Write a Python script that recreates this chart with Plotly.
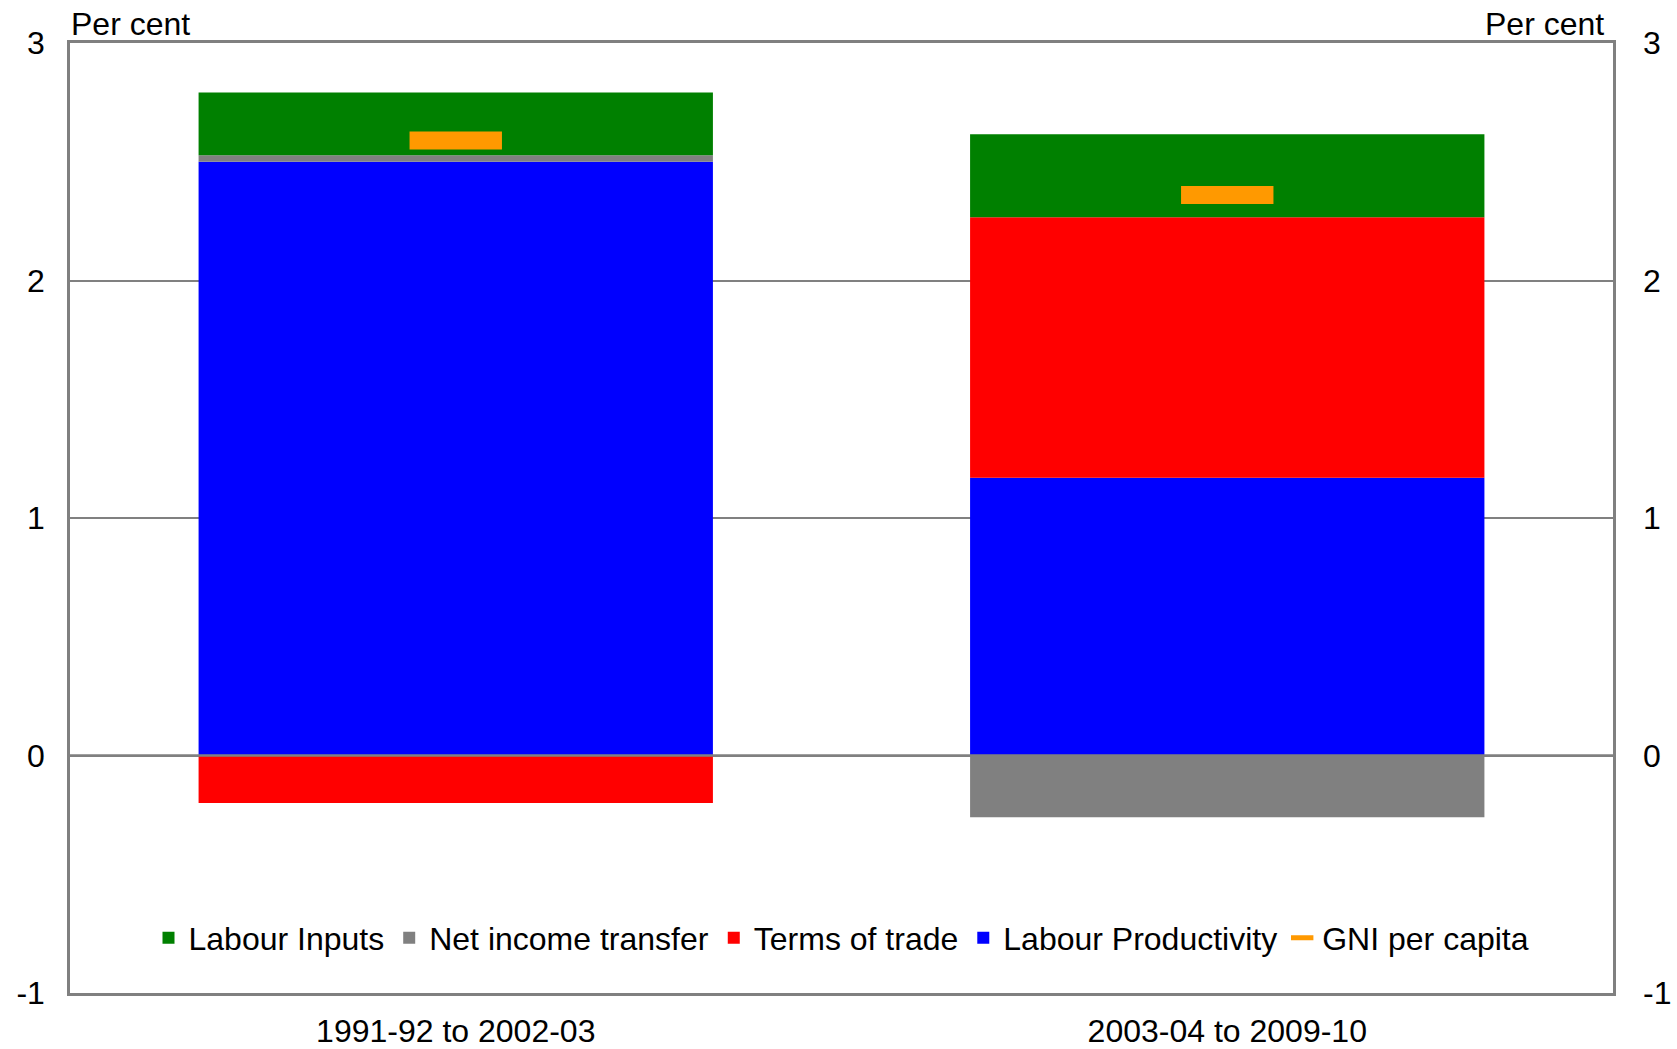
import plotly.graph_objects as go

# Contributions to growth in GNI per capita, average annual, per cent
periods = ["1991-92 to 2002-03", "2003-04 to 2009-10"]
labour_productivity = [2.50, 1.17]
terms_of_trade = [-0.20, 1.096]
net_income_transfer = [0.027, -0.26]
labour_inputs = [0.265, 0.35]
gni_per_capita = [2.59, 2.36]

y_ticks = [-1, 0, 1, 2, 3]
y_tick_labels = ["-1", "0", "1", "2", "3"]

FONT = "Liberation Sans, Arial, sans-serif"
FONT_SIZE = 32
AXIS_GREY = "#808080"

fig = go.Figure()

# stacking order (relative mode): productivity, terms of trade, transfer, inputs
fig.add_trace(go.Bar(x=periods, y=labour_productivity, name="Labour Productivity",
                     marker=dict(color="#0000FF", line=dict(width=0)), legendrank=4))
fig.add_trace(go.Bar(x=periods, y=terms_of_trade, name="Terms of trade",
                     marker=dict(color="#FF0000", line=dict(width=0)), legendrank=3))
fig.add_trace(go.Bar(x=periods, y=net_income_transfer, name="Net income transfer",
                     marker=dict(color="#808080", line=dict(width=0)), legendrank=2))
fig.add_trace(go.Bar(x=periods, y=labour_inputs, name="Labour Inputs",
                     marker=dict(color="#008000", line=dict(width=0)), legendrank=1))

# GNI per capita shown as a short horizontal dash on each bar
fig.add_trace(go.Scatter(x=periods, y=gni_per_capita, name="GNI per capita", mode="markers",
                         marker=dict(symbol="line-ew", size=66, color="#FF9900",
                                     line=dict(width=18, color="#FF9900")),
                         legendrank=5))

# invisible copy on the right-hand axis so its tick labels are drawn
fig.add_trace(go.Scatter(x=periods, y=gni_per_capita, yaxis="y2", mode="markers",
                         marker=dict(opacity=0), showlegend=False, hoverinfo="skip"))

axis_common = dict(range=[y_ticks[0], y_ticks[-1]], tickmode="array",
                   tickvals=y_ticks, ticktext=y_tick_labels,
                   tickfont=dict(size=FONT_SIZE, color="black", family=FONT),
                   ticks="", automargin=False)

fig.update_layout(
    width=1677, height=1049,
    margin=dict(l=70, r=64, t=43, b=56, autoexpand=False),
    paper_bgcolor="white", plot_bgcolor="white",
    barmode="relative", bargap=1/3,
    font=dict(family=FONT, size=FONT_SIZE, color="black"),
    showlegend=True,
    legend=dict(orientation="h", x=0.5, xanchor="center", y=0.058, yanchor="middle",
                bgcolor="rgba(0,0,0,0)", font=dict(size=FONT_SIZE, family=FONT),
                traceorder="normal", itemwidth=30),
    xaxis=dict(type="category", showgrid=False, showline=True, mirror=True,
               linecolor=AXIS_GREY, linewidth=2.5, ticks="", automargin=False,
               tickfont=dict(size=FONT_SIZE, color="black", family=FONT), ticklabelstandoff=8),
    yaxis=dict(**axis_common, ticklabelstandoff=16, showgrid=True, gridcolor=AXIS_GREY,
               gridwidth=1.5, zeroline=False, showline=True, mirror=True,
               linecolor=AXIS_GREY, linewidth=2.5),
    yaxis2=dict(**axis_common, ticklabelstandoff=29, overlaying="y", side="right",
                anchor="x", showgrid=False, zeroline=False, showline=False),
    shapes=[dict(type="line", xref="paper", x0=0, x1=1, yref="y", y0=0, y1=0,
                 line=dict(color=AXIS_GREY, width=2.5), layer="above")],
    annotations=[
        dict(text="Per cent", xref="paper", yref="paper", x=0, y=1,
             xanchor="left", yanchor="bottom", showarrow=False, borderpad=0,
             font=dict(size=FONT_SIZE, family=FONT, color="black")),
        dict(text="Per cent", xref="paper", yref="paper", x=1, y=1, xshift=-8,
             xanchor="right", yanchor="bottom", showarrow=False, borderpad=0,
             font=dict(size=FONT_SIZE, family=FONT, color="black")),
    ],
)

fig.write_html("out.html")
